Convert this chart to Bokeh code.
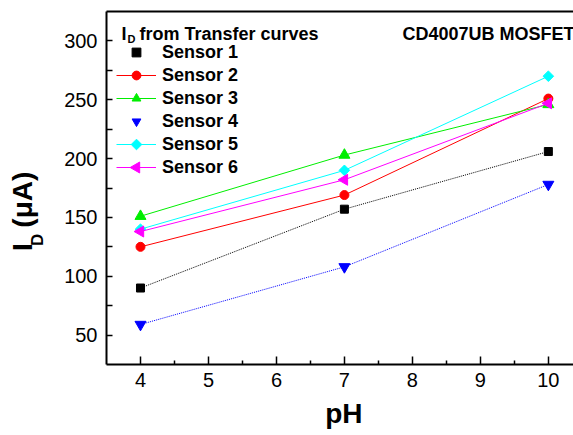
import numpy as np
from bokeh.plotting import figure
from bokeh.models import Range1d, LinearAxis, Legend, LegendItem, Label, FixedTicker
from bokeh.embed import file_html
from bokeh.resources import INLINE

ph = [4, 7, 10]
sensor1 = [90, 157, 206]
sensor2 = [125, 169, 251]
sensor3 = [151, 203, 246]
sensor4 = [59, 108, 178]
sensor5 = [140, 190, 270]
sensor6 = [138, 182, 247]
names = ["Sensor 1", "Sensor 2", "Sensor 3", "Sensor 4", "Sensor 5", "Sensor 6"]
series = [sensor1, sensor2, sensor3, sensor4, sensor5, sensor6]
colors = ["#000000", "#FF0000", "#00EE00", "#0000FF", "#00FFFF", "#FF00FF"]
markers = ["square", "circle", "triangle", "inverted_triangle", "square", "triangle"]
angles = [0, 0, 0, 0, np.pi / 4, np.pi / 2]
sizes = [8, 9, 11, 11, 7.5, 11]
dashes = ["1 1", "solid", "solid", "1 1", "solid", "solid"]
line_in_legend = [False, True, True, False, True, True]
x_ticks = [4, 5, 6, 7, 8, 9, 10]
y_ticks = [50, 100, 150, 200, 250, 300]

FONT = "Liberation Sans"
NB = "\u00a0"
FW, FH = 467, 353

p = figure(frame_width=FW, frame_height=FH, min_border_left=106, min_border_right=0,
           min_border_top=11, min_border_bottom=71,
           x_range=Range1d(3.5, 10.37), y_range=Range1d(25, 325),
           output_backend="svg", toolbar_location=None, outline_line_color=None)
p.grid.visible = False
p.background_fill_color = "white"
p.border_fill_color = "white"
# pixel-like ranges used only to place rotated legend keys
p.extra_x_ranges = {"px": Range1d(0, FW)}
p.extra_y_ranges = {"py": Range1d(0, FH)}

LEG_X, LEG_TOP, LEG_PITCH = 30, 41, 23   # legend key centre x, first row centre offset from frame top, row pitch

items = []
for i, (name, ys, c, m, a, s, d, lil) in enumerate(zip(names, series, colors, markers, angles, sizes, dashes, line_in_legend)):
    ln = p.line(ph, ys, line_color=c, line_width=1, line_dash=d)
    sc = p.scatter(ph, ys, marker=m, size=s, angle=a, fill_color=c, line_color=c)
    if a != 0:
        # legends ignore marker angle: draw the rotated key marker on top of the legend row
        p.scatter([LEG_X], [FH - (LEG_TOP + LEG_PITCH * i)], marker=m, size=s, angle=a,
                  fill_color=c, line_color=c, x_range_name="px", y_range_name="py", level="overlay")
        rs = [ln]
    else:
        rs = [ln, sc] if lil else [sc]
    items.append(LegendItem(label=name, renderers=rs))

for ax in (p.xaxis[0], p.yaxis[0]):
    ax.axis_line_width = 2
    ax.axis_line_color = "black"
    ax.major_tick_out = 0
    ax.minor_tick_out = 0
    ax.major_tick_line_width = 1.5
    ax.minor_tick_line_width = 1.5
    ax.major_label_text_font = FONT
    ax.major_label_text_font_size = "20px"
    ax.major_label_text_color = "black"
    ax.axis_label_text_font = FONT
    ax.axis_label_text_font_style = "bold"
    ax.axis_label_text_color = "black"

p.xaxis[0].ticker = FixedTicker(ticks=x_ticks, minor_ticks=[4.5, 5.5, 6.5, 7.5, 8.5, 9.5])
p.yaxis[0].ticker = FixedTicker(ticks=y_ticks, minor_ticks=[75, 125, 175, 225, 275])
p.xaxis[0].major_tick_in = 8
p.xaxis[0].minor_tick_in = 4
p.yaxis[0].major_tick_in = 6
p.yaxis[0].minor_tick_in = 6
p.xaxis[0].major_label_standoff = 8
p.yaxis[0].major_label_standoff = 9

# x label
p.xaxis[0].axis_label = NB + "pH"
p.xaxis[0].axis_label_text_font_size = "28px"
p.xaxis[0].axis_label_standoff = 8

# y label: subscript "D" on the inner axis, "I (μA)" on an outer axis
p.yaxis[0].axis_label = "D" + NB * 22
p.yaxis[0].axis_label_text_font_size = "17px"
p.yaxis[0].axis_label_standoff = 14

ylab = LinearAxis(axis_label="I" + NB * 2 + "(\u03bcA)" + NB * 6, ticker=FixedTicker(ticks=[]),
                  axis_line_color=None, major_tick_line_color=None, minor_tick_line_color=None,
                  major_label_standoff=0, axis_label_standoff=-12,
                  axis_label_text_font=FONT, axis_label_text_font_style="bold",
                  axis_label_text_font_size="28px", axis_label_text_color="black")
p.add_layout(ylab, "left")

top = LinearAxis(axis_line_width=2, axis_line_color="black", ticker=FixedTicker(ticks=[]),
                 major_tick_line_color=None, minor_tick_line_color=None,
                 major_label_standoff=0)
p.add_layout(top, "above")

legend = Legend(items=items, location=(10, 186), orientation="vertical",
                glyph_width=40, glyph_height=22, label_height=22, spacing=1,
                label_standoff=6, padding=0, margin=0,
                label_text_font=FONT, label_text_font_style="bold",
                label_text_font_size="18px", label_text_color="black",
                border_line_color=None, background_fill_alpha=0)
p.add_layout(legend)

def lab(x, y, t, size):
    p.add_layout(Label(x=x, y=y, x_units="screen", y_units="screen", text=t,
                       text_font=FONT, text_font_size=size, text_align="left",
                       text_baseline="alphabetic", text_color="black",
                       text_font_style="bold"))

lab(15, 331, "I", "18px")
lab(21, 326, "D", "11px")
lab(33, 331, "from Transfer curves", "18px")
lab(296, 331, "CD4007UB MOSFET", "18px")

open("out.html", "w").write(file_html(p, INLINE))
